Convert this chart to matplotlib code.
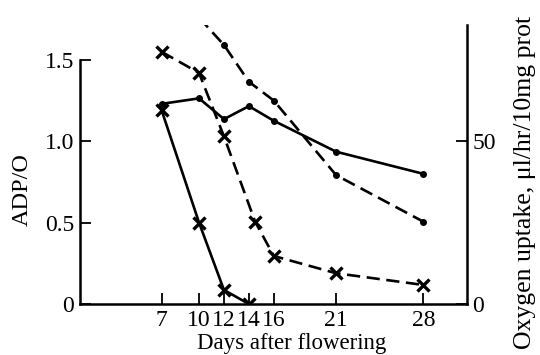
import matplotlib
matplotlib.use("Agg")
import matplotlib.pyplot as plt

plt.rcParams['font.family'] = ['Liberation Serif', 'DejaVu Serif']
plt.rcParams['mathtext.fontset'] = 'stix'

# days after flowering
day_ticks = [7, 10, 12, 14, 16, 21, 28]
tick_labels = ['7', '10', '12', '14', '16', '21', '28']

# ADP/O (left axis)
adp_solid_days = [7, 10, 12, 14]
adp_solid = [1.19, 0.50, 0.086, 0.0]
adp_dash_days = [7, 10, 12, 14.5, 16, 21, 28]
adp_dash = [1.55, 1.42, 1.03, 0.506, 0.295, 0.189, 0.117]

# oxygen uptake, ul/hr/10mg prot (right axis)
o2_solid_days = [7, 10, 12, 14, 16, 21, 28]
o2_solid = [61.5, 63.2, 56.8, 60.8, 56.3, 46.8, 40.0]
o2_dash_days = [10, 12, 14, 16, 21, 28]
o2_dash = [88, 79.6, 68.3, 62.5, 39.6, 25.3]

fig = plt.figure(figsize=(5.4, 3.55), dpi=100)
ax = fig.add_axes([0.148, 0.1437, 0.7167, 0.786])
ax2 = ax.twinx()

lw = 1.9
dash = (0, (5, 2.5))

ax.plot(adp_solid_days, adp_solid, color='black', lw=lw, marker='x',
        ms=9, mew=2.4)
ax.plot(adp_dash_days, adp_dash, color='black', lw=lw, ls=dash, marker='x',
        ms=9, mew=2.4)
ax2.plot(o2_solid_days, o2_solid, color='black', lw=lw, marker='o', ms=4)
ax2.plot(o2_dash_days, o2_dash, color='black', lw=lw, ls=dash, marker='o',
         ms=4)

ax.set_xlim(0.44, 31.5)
ax.set_ylim(0, 1.715)
ax2.set_ylim(0, 85.75)

ax.set_xticks(day_ticks)
ax.set_xticklabels(tick_labels)
ax.set_yticks([0, 0.5, 1.0, 1.5])
ax.set_yticklabels(['0', '0.5', '1.0', '1.5'])
ax2.set_yticks([0, 50])
ax2.set_yticklabels(['0', '50'])

for a in (ax, ax2):
    a.spines['top'].set_visible(False)
    for s in a.spines.values():
        s.set_linewidth(1.8)
    a.tick_params(direction='in', length=8, width=1.3, labelsize=17, pad=4)
ax.spines['right'].set_visible(False)
ax.spines['left'].set_bounds(0, 1.5)
ax2.spines['left'].set_visible(False)
ax2.spines['bottom'].set_visible(False)

fig.text(0.54, 0.016, 'Days after flowering', ha='center', va='baseline',
         fontsize=16.5)
fig.text(22 / 540, 1 - 190 / 355, 'ADP/O', rotation=90, ha='center',
         va='center', fontsize=17.5)
fig.text(525 / 540, 1 - 182 / 355, 'Oxygen uptake, μl/hr/10mg prot',
         rotation=90, ha='center', va='center', fontsize=18.5)

fig.savefig('out.png', dpi=100, facecolor='white')
